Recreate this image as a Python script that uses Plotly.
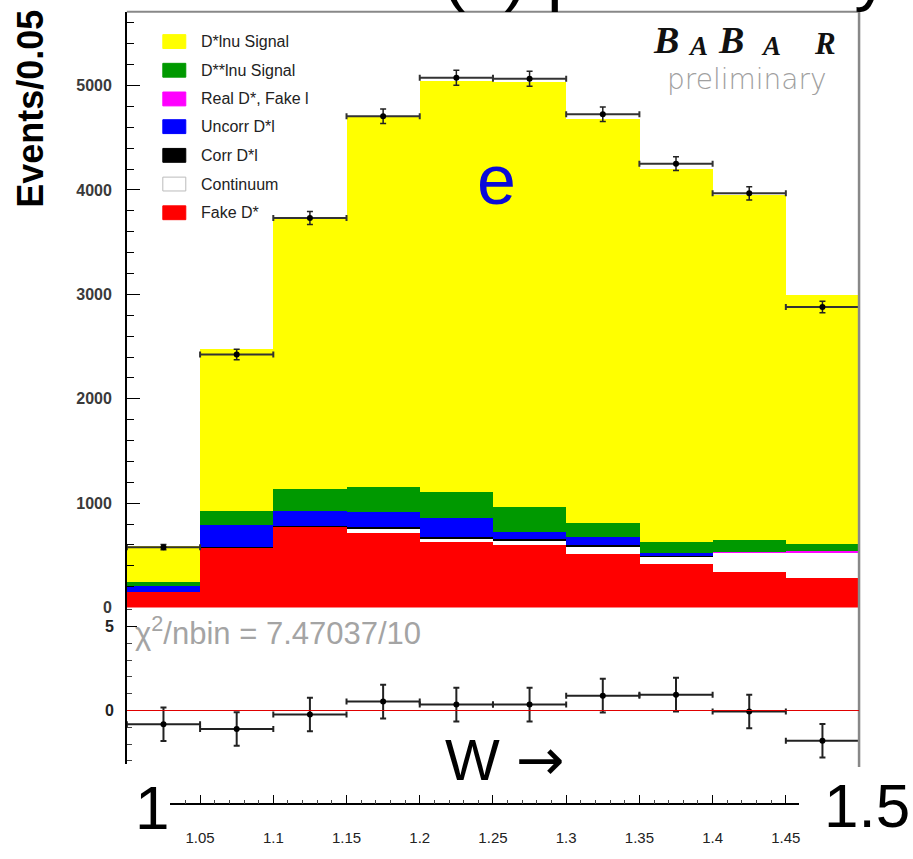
import plotly.graph_objects as go

# ---- W distribution, electron channel: 10 bins of width 0.05 from 1.0 to 1.5 ----
w_center = [1.025, 1.075, 1.125, 1.175, 1.225, 1.275, 1.325, 1.375, 1.425, 1.475]
bin_width = 0.05

# stacked MC components (events per bin), bottom to top
fake_dstar = [150, 578, 777, 720, 634, 597, 511, 417, 341, 284]
continuum = [0, 0, 0, 42, 32, 48, 78, 72, 186, 241]
corr_dl = [0, 6, 6, 8, 8, 10, 8, 6, 0, 0]
uncorr_dl = [58, 211, 145, 149, 188, 74, 85, 26, 0, 0]
real_dstar_fake_l = [0, 0, 0, 0, 0, 0, 0, 0, 3, 15]
dss_lnu = [38, 133, 208, 236, 246, 237, 132, 113, 114, 66]
dstar_lnu = [344, 1552, 2584, 3545, 3942, 4074, 3864, 3571, 3314, 2386]

# data
data_counts = [578, 2424, 3731, 4706, 5076, 5066, 4725, 4252, 3968, 2879]
data_errors = [25, 50, 62, 70, 72, 72, 70, 66, 64, 55]

# pulls in the lower pad
pulls = [-0.82, -1.10, -0.24, 0.53, 0.35, 0.35, 0.88, 0.94, -0.06, -1.80]
pull_errors = [1, 1, 1, 1, 1, 1, 1, 1, 1, 1]

legend_labels = ["D*lnu Signal", "D**lnu Signal", "Real D*, Fake l", "Uncorr D*l",
                 "Corr D*l", "Continuum", "Fake D*"]
y_tick_vals = [0, 1000, 2000, 3000, 4000, 5000]
axis_tick_vals = [1.05, 1.1, 1.15, 1.2, 1.25, 1.3, 1.35, 1.4, 1.45]
axis_tick_text = ["1.05", "1.1", "1.15", "1.2", "1.25", "1.3", "1.35", "1.4", "1.45"]

W, H = 913, 859


def px(x):
    return x / W


def py(y):
    return 1 - y / H


YEL, GRN, MAG, BLU, BLK, WHT, RED = "#ffff00", "#009900", "#ff00ff", "#0000ff", "#000000", "#ffffff", "#ff0000"

fig = go.Figure()

stack = [
    (fake_dstar, RED), (continuum, WHT), (corr_dl, BLK), (uncorr_dl, BLU),
    (real_dstar_fake_l, MAG), (dss_lnu, GRN), (dstar_lnu, YEL),
]
for vals, col in stack:
    fig.add_trace(go.Bar(x=w_center, y=vals, width=bin_width, marker=dict(color=col, line=dict(width=0)),
                         xaxis="x", yaxis="y", showlegend=False, hoverinfo="skip"))

half = [bin_width / 2] * len(w_center)
fig.add_trace(go.Scatter(
    x=w_center, y=data_counts, mode="markers", xaxis="x", yaxis="y", showlegend=False,
    marker=dict(color="black", size=6),
    error_y=dict(type="data", array=data_errors, color="#222", thickness=1.5, width=3),
    error_x=dict(type="data", array=half, color="#333", thickness=2, width=3),
))

fig.add_trace(go.Scatter(
    x=w_center, y=pulls, mode="markers", xaxis="x2", yaxis="y2", showlegend=False,
    marker=dict(color="black", size=6),
    error_y=dict(type="data", array=pull_errors, color="#222", thickness=2, width=3),
    error_x=dict(type="data", array=half, color="#222", thickness=2, width=3),
))

# carrier for the bottom W scale
fig.add_trace(go.Scatter(x=[], y=[], xaxis="x3", yaxis="y3", showlegend=False))

x_lo, x_hi = 1.0, 1.5
ax_l, ax_r = 127, 860
scale_l, scale_r = 170, 800
r3 = [x_lo + (scale_l - ax_l) / (ax_r - ax_l) * (x_hi - x_lo),
      x_lo + (scale_r - ax_l) / (ax_r - ax_l) * (x_hi - x_lo)]

main_top, split, pad_bot = 12, 614, 772
main_max = (split - main_top) / 105.5 * 1000
pull_hi = (718 - split) / 17.0
pull_lo = -(pad_bot - 718) / 17.0

tick_family = "Liberation Sans Narrow, Liberation Sans, Arial, sans-serif"

fig.update_layout(
    width=W, height=H, margin=dict(l=0, r=0, t=0, b=0),
    paper_bgcolor="white", plot_bgcolor="white",
    barmode="stack", bargap=0,
    font=dict(family="Liberation Sans, Arial, sans-serif"),
    xaxis=dict(domain=[px(ax_l), px(ax_r)], range=[x_lo, x_hi], visible=False, anchor="y"),
    yaxis=dict(domain=[py(split), py(main_top)], range=[0, main_max], anchor="x",
               tickmode="array", tickvals=y_tick_vals, ticktext=[str(v) for v in y_tick_vals],
               ticks="inside", ticklen=13, tickwidth=1.3, tickcolor="black",
               showline=True, linecolor="black", linewidth=1.5,
               minor=dict(tickmode="linear", tick0=0, dtick=200, ticks="inside", ticklen=7,
                          tickcolor="black", tickwidth=1.2),
               showgrid=False, zeroline=False, ticklabelstandoff=10,
               tickfont=dict(family=tick_family, size=16, color="#3a3a3a", weight="bold")),
    xaxis2=dict(domain=[px(ax_l), px(ax_r)], range=[x_lo, x_hi], visible=False, anchor="y2"),
    yaxis2=dict(domain=[py(pad_bot), py(split)], range=[pull_lo, pull_hi], anchor="x2",
                tickmode="array", tickvals=[0, 5], ticktext=["0", "5"],
                ticks="inside", ticklen=10, tickcolor="black", tickwidth=1.2,
                showline=True, linecolor="black", linewidth=1.5,
                minor=dict(tickmode="linear", tick0=0, dtick=1, ticks="inside", ticklen=5,
                           tickcolor="#444"),
                showgrid=False, zeroline=False, ticklabelstandoff=8,
                tickfont=dict(family=tick_family, size=16, color="#222", weight="bold")),
    xaxis3=dict(domain=[px(scale_l), px(scale_r)], range=r3, anchor="y3",
                tickmode="array", tickvals=axis_tick_vals, ticktext=axis_tick_text,
                ticks="inside", ticklen=9, tickcolor="black", tickwidth=1,
                showline=True, linecolor="black", linewidth=1.5,
                minor=dict(tickmode="linear", tick0=1.0, dtick=0.01, ticks="inside", ticklen=4,
                           tickcolor="#444"),
                showgrid=False, zeroline=False, ticklabelstandoff=20,
                tickfont=dict(family=tick_family, size=15, color="#222")),
    yaxis3=dict(domain=[py(812), py(805)], visible=False, anchor="x3"),
)

shapes = [
    # frame: top and right edges
    dict(type="line", xref="paper", yref="paper", x0=px(ax_l), x1=px(ax_r), y0=py(main_top), y1=py(main_top),
         line=dict(color="#888", width=2)),
    dict(type="line", xref="paper", yref="paper", x0=px(ax_r), x1=px(ax_r), y0=py(main_top), y1=py(pad_bot + 3),
         line=dict(color="#888", width=2.5)),
    # zero line of the pull pad
    dict(type="line", xref="x2", yref="y2", x0=x_lo, x1=x_hi, y0=0, y1=0, line=dict(color="#e00000", width=1.2)),
]

# legend
leg_cols = [YEL, GRN, MAG, BLU, BLK, WHT, RED]
leg_rows = [42, 71, 100, 128, 157, 186, 215]
annotations = []
for lab, col, yc in zip(legend_labels, leg_cols, leg_rows):
    shapes.append(dict(type="rect", xref="paper", yref="paper", x0=px(163), x1=px(186),
                       y0=py(yc + 7), y1=py(yc - 7), fillcolor=col,
                       line=dict(color="#bbb" if col == WHT else col, width=1)))
    annotations.append(dict(text=lab, xref="paper", yref="paper", x=px(199), y=py(yc),
                            xanchor="left", yanchor="middle", showarrow=False,
                            font=dict(size=16, color="#222")))

fig.update_layout(shapes=shapes)

serif = "Liberation Serif, Times New Roman, serif"
for ch, xc, sz in [("B", 667, 38), ("A", 699, 27), ("B", 732, 38), ("A", 772, 27), ("R", 826, 31)]:
    annotations.append(dict(text="<b><i>" + ch + "</i></b>", xref="paper", yref="paper", x=px(xc), y=py(64),
                            xanchor="center", yanchor="bottom", showarrow=False,
                            font=dict(family=serif, size=sz, color="#111")))

annotations += [
    dict(text="preliminary", xref="paper", yref="paper", x=px(748), y=py(80), xanchor="center",
         yanchor="middle", showarrow=False, font=dict(family="DejaVu Sans", size=28, color="#a0a0a0",
                                                      weight=300)),
    dict(text="e", xref="paper", yref="paper", x=px(497), y=py(182), xanchor="center", yanchor="middle",
         showarrow=False, font=dict(size=70, color="#0a0ad8")),
    dict(text="Events/0.05", xref="paper", yref="paper", x=px(31), y=py(110), textangle=-90,
         xanchor="center", yanchor="middle", showarrow=False,
         font=dict(size=36, color="black", weight="bold")),
    dict(text="χ<sup>2</sup>/nbin = 7.47037/10", xref="paper", yref="paper", x=px(133), y=py(638),
         xanchor="left", yanchor="middle", showarrow=False, font=dict(size=31, color="#a4a4a4")),
    dict(text="W <span style='font-family:DejaVu Sans'>→</span>", xref="paper", yref="paper",
         x=px(505), y=py(768), xanchor="center", yanchor="middle",
         showarrow=False, font=dict(size=58, color="black")),
    dict(text="1", xref="paper", yref="paper", x=px(152), y=py(816), xanchor="center", yanchor="middle",
         showarrow=False, font=dict(size=62, color="black")),
    dict(text="1.5", xref="paper", yref="paper", x=px(868), y=py(814), xanchor="center", yanchor="middle",
         showarrow=False, bgcolor="white", font=dict(size=62, color="black")),
    dict(text="(e) preliminary", xref="paper", yref="paper", x=px(440), y=py(14), xanchor="left",
         yanchor="bottom", showarrow=False, font=dict(size=70, color="black")),
]
fig.update_layout(annotations=annotations)

fig.write_html("out.html")
